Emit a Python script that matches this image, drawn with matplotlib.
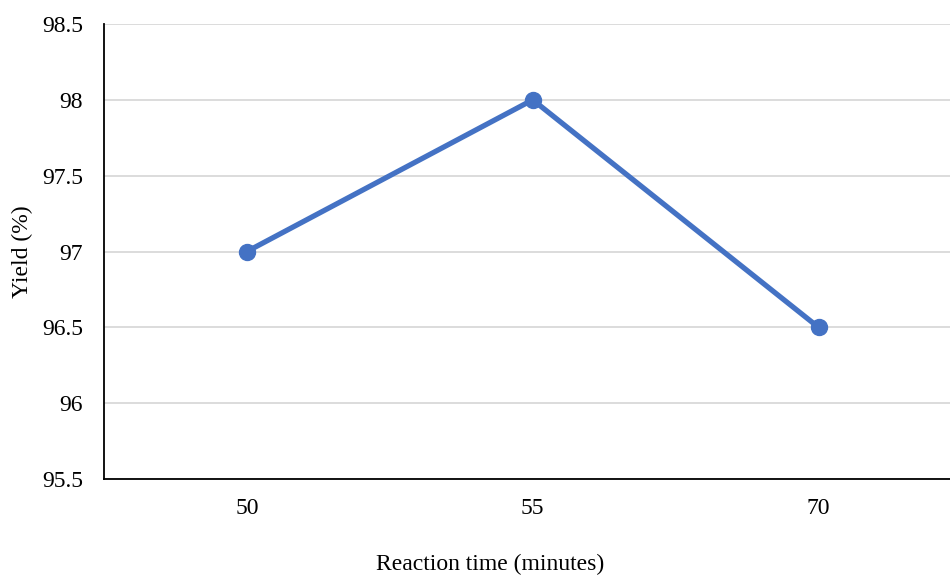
import matplotlib
matplotlib.use("Agg")
import matplotlib.pyplot as plt

# data
times = ["50", "55", "70"]
yields = [97.0, 98.0, 96.5]
yticks = [95.5, 96, 96.5, 97, 97.5, 98, 98.5]
ytick_labels = ["95.5", "96", "96.5", "97", "97.5", "98", "98.5"]

plt.rcParams["font.family"] = ["Liberation Serif", "DejaVu Serif"]

fig = plt.figure(figsize=(9.5, 5.76), dpi=100)
ax = fig.add_axes([104 / 950, 1 - 479 / 576, 1 - 104 / 950, (479 - 24) / 576])

x = range(len(times))
ax.plot(x, yields, color="#4472C4", linewidth=3.8, marker="o",
        markersize=11.5, solid_capstyle="round", zorder=3)

ax.set_xlim(-0.5, 2.46)
ax.set_ylim(95.5, 98.5)
ax.set_xticks(list(x))
ax.set_xticklabels(times)
ax.set_yticks(yticks)
ax.set_yticklabels(ytick_labels)
ax.tick_params(axis="both", length=0, labelsize=17)
ax.tick_params(axis="y", pad=15)
ax.tick_params(axis="x", pad=14)

ax.grid(axis="y", color="#D9D9D9", linewidth=1.3)
ax.set_axisbelow(True)
for side in ["top", "right"]:
    ax.spines[side].set_visible(False)
ax.spines["left"].set_linewidth(1.3)
ax.spines["bottom"].set_linewidth(1.3)

fig.text(490 / 950, 1 - 564 / 576, "Reaction time (minutes)", ha="center",
         va="center", fontsize=17)
fig.text(22 / 950, 1 - 252 / 576, "Yield (%)", ha="center", va="center",
         rotation=90, fontsize=17)

fig.savefig("out.png", dpi=100)
